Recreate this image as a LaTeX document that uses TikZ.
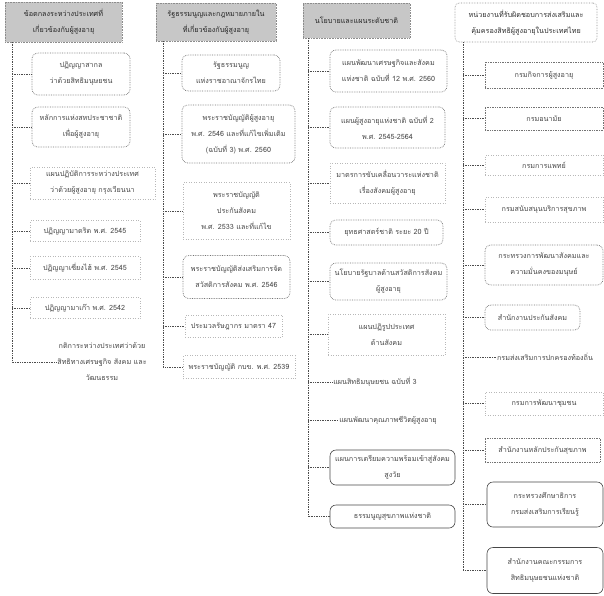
\documentclass[tikz,border=0pt]{standalone}
\usepackage{fontspec}
\newfontfamily\thaifnt[Script=Thai]{Loma}
\begin{document}
\begin{tikzpicture}[x=1pt,y=-1pt,
  every node/.style={font=\thaifnt\fontsize{7.2}{16}\selectfont, text=black!72, align=center, inner sep=1pt},
  sz/.style 2 args={minimum width=#1pt, minimum height=#2pt},
  hdr/.style={draw=black!45, densely dotted, fill=black!22, text=black!85, line width=0.6pt},
  hdrw/.style={draw=black!45, densely dotted, rounded corners=4pt, text=black!82, line width=0.6pt},
  rbox/.style={draw=black!55, densely dotted, rounded corners=6pt, line width=0.7pt},
  fbox/.style={draw=black!28, dotted, line width=0.5pt},
  pbox/.style={draw=black!55, densely dotted, line width=0.7pt},
  dbox/.style={draw=black!72, rounded corners=6pt, line width=0.6pt},
  conn/.style={draw=black!70, densely dotted, line width=0.7pt},
]
\useasboundingbox (0,0) rectangle (604,595);

% ---------- column 1 ----------
\node[hdr, sz={117}{40}] (h1) at (63.5,22) {ข้อตกลงระหว่างประเทศที่\\เกี่ยวข้องกับผู้สูงอายุ};
\coordinate (t1) at (12,42);
\node[rbox, sz={98}{42}] (c11) at (81,74) {ปฏิญญาสากล\\ว่าด้วยสิทธิมนุษยชน};
\node[rbox, sz={98}{40}] (c12) at (81,127) {หลักการแห่งสหประชาชาติ\\เพื่อผู้สูงอายุ};
\node[fbox, sz={125}{32}] (c13) at (92.5,183) {แผนปฏิบัติการระหว่างประเทศ\\ว่าด้วยผู้สูงอายุ กรุงเวียนนา};
\node[fbox, sz={110}{21}] (c14) at (85,231) {ปฏิญญามาดริด พ.ศ. 2545};
\node[fbox, sz={110}{23}] (c15) at (85,268) {ปฏิญญาเซี่ยงไฮ้ พ.ศ. 2545};
\node[fbox, sz={110}{21}] (c16) at (85,308) {ปฏิญญามาเก๊า พ.ศ. 2542};
\node (c17) at (102,362) {กติการะหว่างประเทศว่าด้วย\\สิทธิทางเศรษฐกิจ สังคม และ\\วัฒนธรรม};
\foreach \n in {c11,c12,c13,c14,c15,c16} \draw[conn] (t1 |- \n.west) -- (\n.west);
\draw[conn] (t1) -- (t1 |- c17.west) -- (c17.west);

% ---------- column 2 ----------
\node[hdr, sz={120}{38}] (h2) at (216,22) {รัฐธรรมนูญและกฎหมายภายใน\\ที่เกี่ยวข้องกับผู้สูงอายุ};
\coordinate (t2) at (163,41);
\node[rbox, sz={98}{36}] (c21) at (231,73) {รัฐธรรมนูญ\\แห่งราชอาณาจักรไทย};
\node[rbox, sz={113}{58}] (c22) at (238.5,134) {พระราชบัญญัติผู้สูงอายุ\\พ.ศ. 2546 และที่แก้ไขเพิ่มเติม\\(ฉบับที่ 3) พ.ศ. 2560};
\node[fbox, sz={107}{57}] (c23) at (236.5,211) {พระราชบัญญัติ\\ประกันสังคม\\พ.ศ. 2533 และที่แก้ไข};
\node[rbox, sz={107}{43}] (c24) at (236.5,277) {พระราชบัญญัติส่งเสริมการจัด\\สวัสดิการสังคม พ.ศ. 2546};
\node[fbox, sz={97}{22}] (c25) at (233.5,326) {ประมวลรัษฎากร มาตรา 47};
\node[fbox, sz={112}{23}] (c26) at (239,367) {พระราชบัญญัติ กบข. พ.ศ. 2539};
\foreach \n in {c21,c22,c23,c24,c25} \draw[conn] (t2 |- \n.west) -- (\n.west);
\draw[conn] (t2) -- (t2 |- c26.west) -- (c26.west);

% ---------- column 3 ----------
\node[hdr, sz={107}{35}] (h3) at (356.5,20.5) {นโยบายและแผนระดับชาติ};
\coordinate (t3) at (308,38);
\node[rbox, sz={117}{42}] (c31) at (388.5,71) {แผนพัฒนาเศรษฐกิจและสังคม\\แห่งชาติ ฉบับที่ 12 พ.ศ. 2560};
\node[rbox, sz={115}{41}] (c32) at (387.5,127.5) {แผนผู้สูงอายุแห่งชาติ ฉบับที่ 2\\พ.ศ. 2545-2564};
\node[fbox, sz={115}{40}] (c33) at (387.5,183) {มาตรการขับเคลื่อนวาระแห่งชาติ\\เรื่องสังคมผู้สูงอายุ};
\node[rbox, sz={113}{25}] (c34) at (386.5,232.5) {ยุทธศาสตร์ชาติ ระยะ 20 ปี};
\node[rbox, sz={117}{37}] (c35) at (388.5,281.5) {นโยบายรัฐบาลด้านสวัสดิการสังคม\\ผู้สูงอายุ};
\node[fbox, sz={117}{41}] (c36) at (386.5,334.5) {แผนปฏิรูปประเทศ\\ด้านสังคม};
\node (c37) at (375,382) {แผนสิทธิมนุษยชน ฉบับที่ 3};
\node (c38) at (388,420) {แผนพัฒนาคุณภาพชีวิตผู้สูงอายุ};
\node[dbox, sz={125}{35}] (c39) at (392.5,467.5) {แผนการเตรียมความพร้อมเข้าสู่สังคม\\สูงวัย};
\node[dbox, sz={125}{23}] (c310) at (392.5,516.5) {ธรรมนูญสุขภาพแห่งชาติ};
\foreach \n in {c31,c32,c33,c34,c35,c36,c37,c38,c39} \draw[conn] (t3 |- \n.west) -- (\n.west);
\draw[conn] (t3) -- (t3 |- c310.west) -- (c310.west);

% ---------- column 4 ----------
\node[hdrw, sz={142}{39}] (h4) at (526,22.5) {หน่วยงานที่รับผิดชอบการส่งเสริมและ\\คุ้มครองสิทธิผู้สูงอายุในประเทศไทย};
\coordinate (t4) at (463,42);
\node[pbox, sz={118}{26}] (c41) at (544,75) {กรมกิจการผู้สูงอายุ};
\node[pbox, sz={118}{23}] (c42) at (544,118.5) {กรมอนามัย};
\node[fbox, sz={118}{20}] (c43) at (544,165) {กรมการแพทย์};
\node[fbox, sz={118}{25}] (c44) at (544,209.5) {กรมสนับสนุนบริการสุขภาพ};
\node[rbox, sz={118}{40}] (c45) at (544,265) {กระทรวงการพัฒนาสังคมและ\\ความมั่นคงของมนุษย์};
\node[rbox, sz={95}{25}] (c46) at (532.5,317.5) {สำนักงานประกันสังคม};
\node (c47) at (545,357) {กรมส่งเสริมการปกครองท้องถิ่น};
\node[fbox, sz={118}{23}] (c48) at (544,403.5) {กรมการพัฒนาชุมชน};
\node[pbox, sz={115}{24}] (c49) at (542.5,450) {สำนักงานหลักประกันสุขภาพ};
\node[dbox, sz={116}{45}] (c410) at (545,504.5) {กระทรวงศึกษาธิการ\\กรมส่งเสริมการเรียนรู้};
\node[dbox, sz={116}{46}] (c411) at (545,570.5) {สำนักงานคณะกรรมการ\\สิทธิมนุษยชนแห่งชาติ};
\foreach \n in {c41,c42,c43,c44,c45,c46,c47,c48,c49,c410} \draw[conn] (t4 |- \n.west) -- (\n.west);
\draw[conn] (t4) -- (t4 |- c411.west) -- (c411.west);
\end{tikzpicture}
\end{document}
